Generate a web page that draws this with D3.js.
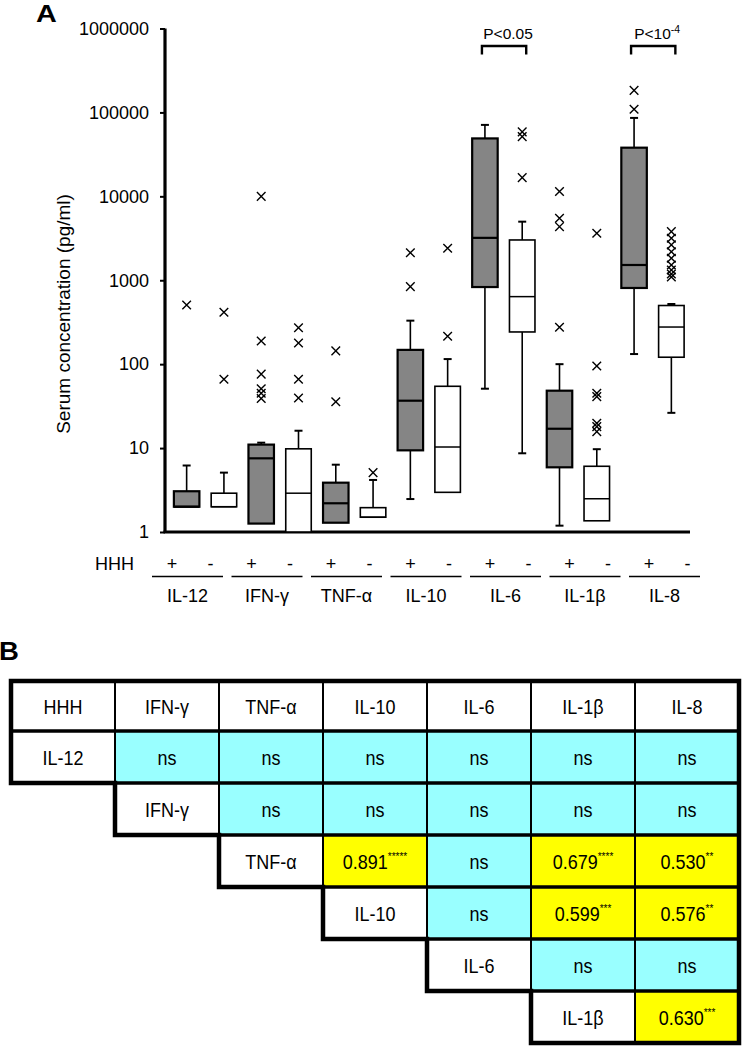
<!DOCTYPE html>
<html><head><meta charset="utf-8">
<script src="https://cdn.jsdelivr.net/npm/d3@7"></script>
<style>
body{margin:0;background:#fff}
svg{display:block}
text{font-family:"Liberation Sans",Arial,Helvetica,sans-serif;fill:#000}
</style>
</head><body>
<svg id="chart" width="742" height="1050"></svg>
<script>
// ---------- Panel A data ----------
const cytokines = ["IL-12","IFN-γ","TNF-α","IL-10","IL-6","IL-1β","IL-8"];
const hhh = ["+","-"];
// one entry per box, order: IL-12 +, IL-12 -, IFN-γ +, IFN-γ -, ...
const whiskerLow  = [2, 2, 1.26, 1, 1.29, 1.5, 2.47, 2.97, 51, 8.67, 1.19, 1.36, 132, 26.3];
const q1          = [2, 2, 1.26, 1, 1.29, 1.5, 9.4, 2.97, 830, 242, 5.9, 1.36, 809, 121];
const median      = [2, 2, 7.55, 2.9, 2.2, 1.5, 36.7, 10.3, 3200, 638, 17, 2.49, 1520, 277];
const q3          = [3.06, 2.9, 11, 9.8, 3.87, 1.95, 148, 54.5, 49000, 3020, 48.3, 6.07, 38000, 500];
const whiskerHigh = [6.2, 5.1, 11.6, 16.1, 6.34, 4.17, 330, 115, 71000, 4990, 100, 9.7, 86000, 521];
const outliers = [
  [507],
  [415, 66],
  [10000, 189, 76, 51, 45, 39],
  [272, 179, 66, 39.5],
  [144, 35.7],
  [5.1],
  [2130, 839],
  [2405, 215],
  [],
  [58600, 51500, 16700],
  [11400, 5480, 4350, 275],
  [3630, 95, 45, 41, 19.8, 18, 15.7],
  [183000, 109000],
  [3800, 3170, 2640, 2190, 1830, 1520, 1326, 1189, 1094]
];
const yTicks = [1, 10, 100, 1000, 10000, 100000, 1000000];
const yLabel = "Serum concentration (pg/ml)";
const sigPairs = ["IL-6", "IL-8"];
const sigMain = ["P<0.05", "P<10"];
const sigSup = ["", "-4"];

// ---------- Panel B data ----------
const tableHeader = ["HHH","IFN-γ","TNF-α","IL-10","IL-6","IL-1β","IL-8"];
const tableRows = ["IL-12","IFN-γ","TNF-α","IL-10","IL-6","IL-1β"];
const corrValues = [
  ["ns","ns","ns","ns","ns","ns"],
  [null,"ns","ns","ns","ns","ns"],
  [null,null,"0.891","ns","0.679","0.530"],
  [null,null,null,"ns","0.599","0.576"],
  [null,null,null,null,"ns","ns"],
  [null,null,null,null,null,"0.630"]
];
const corrStars = [
  ["","","","","",""],
  ["","","","","",""],
  ["","","*****","","****","**"],
  ["","","","","***","**"],
  ["","","","","",""],
  ["","","","","","***"]
];

// ---------- Drawing ----------
const svg = d3.select("#chart");
const FONT = 18;

const boxes = [];
cytokines.forEach((c, ci) => hhh.forEach((h, hi) => {
  const i = ci * 2 + hi;
  boxes.push({key: c + "|" + h, cyt: c, h, lo: whiskerLow[i], q1: q1[i], med: median[i],
              q3: q3[i], hi: whiskerHigh[i], out: outliers[i]});
}));

const x = d3.scaleBand().domain(boxes.map(b => b.key)).range([168, 690])
  .paddingInner(0.316).paddingOuter(0.158);
const y = d3.scaleLog().domain([1, 1000000]).range([532, 28.5]);
const cx = k => x(k) + x.bandwidth() / 2;

// panel label A
svg.append("text").attr("transform", "translate(36,22) scale(1.2,1)").attr("font-size", 24)
  .attr("font-weight", "bold").text("A");

// y axis
const yAxis = svg.append("g").attr("transform", "translate(165,0)")
  .call(d3.axisLeft(y).tickValues(yTicks).tickFormat(d3.format("d")).tickSize(5).tickPadding(11));
yAxis.select(".domain").attr("stroke", "#000").attr("stroke-width", 3.2)
  .attr("d", `M0,${y(1000000)}V${y(1)}`);
yAxis.selectAll(".tick line").attr("stroke", "#000").attr("stroke-width", 2);
yAxis.selectAll(".tick text").attr("font-size", FONT).attr("fill", "#000")
  .attr("font-family", '"Liberation Sans",Arial,sans-serif');

// x axis line
svg.append("line").attr("x1", 163.5).attr("x2", 690).attr("y1", y(1)).attr("y2", y(1))
  .attr("stroke", "#000").attr("stroke-width", 3.2);

// y label
svg.append("text").attr("transform", `translate(70,314) rotate(-90)`)
  .attr("text-anchor", "middle").attr("font-size", 19).text(yLabel);

// boxes
const bg = svg.append("g").selectAll("g").data(boxes).join("g");
const capW = 8;
// upper whisker
bg.filter(d => d.hi > d.q3).append("line")
  .attr("x1", d => cx(d.key)).attr("x2", d => cx(d.key))
  .attr("y1", d => y(d.q3)).attr("y2", d => y(d.hi)).attr("stroke", "#000").attr("stroke-width", 1.6);
bg.filter(d => d.hi > d.q3).append("line")
  .attr("x1", d => cx(d.key) - capW / 2).attr("x2", d => cx(d.key) + capW / 2)
  .attr("y1", d => y(d.hi)).attr("y2", d => y(d.hi)).attr("stroke", "#000").attr("stroke-width", 2);
// lower whisker
bg.filter(d => d.lo < d.q1).append("line")
  .attr("x1", d => cx(d.key)).attr("x2", d => cx(d.key))
  .attr("y1", d => y(d.q1)).attr("y2", d => y(d.lo)).attr("stroke", "#000").attr("stroke-width", 1.6);
bg.filter(d => d.lo < d.q1).append("line")
  .attr("x1", d => cx(d.key) - capW / 2).attr("x2", d => cx(d.key) + capW / 2)
  .attr("y1", d => y(d.lo)).attr("y2", d => y(d.lo)).attr("stroke", "#000").attr("stroke-width", 2);
// box
bg.append("rect")
  .attr("x", d => x(d.key)).attr("width", x.bandwidth())
  .attr("y", d => y(d.q3)).attr("height", d => y(d.q1) - y(d.q3))
  .attr("fill", d => d.h === "+" ? "#858585" : "#fff")
  .attr("stroke", "#000").attr("stroke-width", d => d.h === "+" ? 2.2 : 1.6);
// median
bg.append("line")
  .attr("x1", d => x(d.key)).attr("x2", d => x(d.key) + x.bandwidth())
  .attr("y1", d => y(d.med)).attr("y2", d => y(d.med))
  .attr("stroke", "#000").attr("stroke-width", d => d.h === "+" ? 2.2 : 1.5);
// outliers
const ms = 4.3;
bg.selectAll("path.out").data(d => d.out.map(v => ({v, key: d.key}))).join("path")
  .attr("class", "out")
  .attr("d", o => {
    const px = cx(o.key), py = y(o.v);
    return `M${px - ms},${py - ms}L${px + ms},${py + ms}M${px - ms},${py + ms}L${px + ms},${py - ms}`;
  })
  .attr("stroke", "#000").attr("stroke-width", 1.4).attr("fill", "none");

// significance brackets
sigPairs.forEach((c, i) => {
  const x1 = cx(c + "|+") - 3, x2 = cx(c + "|-") + 4;
  const top = 46, bot = 54.5;
  svg.append("path").attr("d", `M${x1},${bot}V${top}H${x2}V${bot}`)
    .attr("fill", "none").attr("stroke", "#000").attr("stroke-width", 2.4);
  const t = svg.append("text").attr("x", (x1 + x2) / 2 + 4).attr("y", 39)
    .attr("text-anchor", "middle").attr("font-size", 15.5).text(sigMain[i]);
  if (sigSup[i]) t.append("tspan").attr("dy", -6).attr("font-size", 10.5).text(sigSup[i]);
});

// bottom HHH labels
const gx = d3.scaleBand().domain(cytokines).range([152, 700]).paddingInner(0.107).paddingOuter(0);
svg.append("text").attr("x", 95).attr("y", 569.5).attr("font-size", FONT).text("HHH");
const signOffset = {"+": 20, "-": 58.5};
cytokines.forEach(c => {
  hhh.forEach(h => {
    svg.append("text").attr("x", gx(c) + signOffset[h]).attr("y", 569.5)
      .attr("text-anchor", "middle").attr("font-size", FONT).text(h);
  });
  svg.append("line").attr("x1", gx(c)).attr("x2", gx(c) + gx.bandwidth())
    .attr("y1", 576.5).attr("y2", 576.5).attr("stroke", "#000").attr("stroke-width", 1.6);
  svg.append("text").attr("x", gx(c) + gx.bandwidth() / 2).attr("y", 601.5)
    .attr("text-anchor", "middle").attr("font-size", FONT).text(c);
});

// ---------- Panel B ----------
svg.append("text").attr("transform", "translate(-1,660) scale(1.1,1)").attr("font-size", 25)
  .attr("font-weight", "bold").text("B");

const colX = d3.scaleBand().domain(d3.range(tableHeader.length)).range([11, 739]);
const rowY = d3.scaleLinear().domain([0, 1, tableRows.length + 1]).range([681, 731, 1043]);
const tb = svg.append("g");
const cells = [];
tableHeader.forEach((h, c) => cells.push({r: 0, c, text: h, stars: "", fill: "#fff"}));
tableRows.forEach((rn, r) => {
  cells.push({r: r + 1, c: r, text: rn, stars: "", fill: "#fff"});
  corrValues[r].forEach((v, c) => {
    if (v === null) return;
    cells.push({r: r + 1, c: c + 1, text: v, stars: corrStars[r][c], fill: v === "ns" ? "#99ffff" : "#ffff00"});
  });
});
tb.selectAll("rect").data(cells).join("rect")
  .attr("x", d => colX(d.c)).attr("width", colX.bandwidth())
  .attr("y", d => rowY(d.r)).attr("height", d => rowY(d.r + 1) - rowY(d.r))
  .attr("fill", d => d.fill).attr("stroke", "#000").attr("stroke-width", 2);
// thicker horizontal separators
d3.range(1, tableRows.length + 1).forEach(r => {
  svg.append("line").attr("x1", colX(Math.max(0, r - 1))).attr("x2", 739)
    .attr("y1", rowY(r)).attr("y2", rowY(r)).attr("stroke", "#000").attr("stroke-width", 3.5);
});
const tt = tb.selectAll("text").data(cells).join("text")
  .attr("transform", d => `translate(${colX(d.c) + colX.bandwidth() / 2},${(rowY(d.r) + rowY(d.r + 1)) / 2 + 7.5}) scale(1,1.15)`)
  .attr("text-anchor", "middle").attr("font-size", FONT)
  .text(d => d.text);
tt.filter(d => d.stars).append("tspan").attr("dy", -7.5).attr("font-size", 10).text(d => d.stars);

// staircase outline
let p = `M${colX(0)},${rowY(0)}H739V${rowY(tableRows.length + 1)}`;
for (let r = tableRows.length; r >= 1; r--) {
  p += `H${colX(r - 1)}V${rowY(r)}`;
}
p += `V${rowY(0)}Z`;
svg.append("path").attr("d", p).attr("fill", "none").attr("stroke", "#000")
  .attr("stroke-width", 4.5).attr("stroke-linejoin", "miter");
</script>
</body></html>
